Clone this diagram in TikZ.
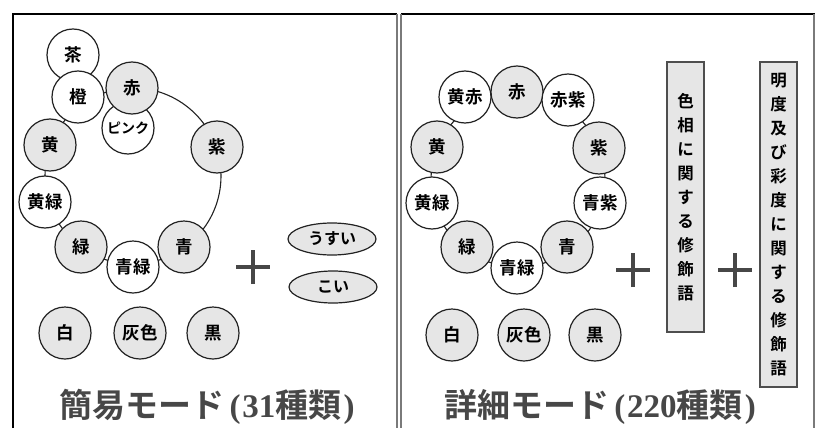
\documentclass[tikz,border=0pt]{standalone}
\usepackage{fontspec}
\usetikzlibrary{shapes.geometric}
\newfontfamily\jp{Noto Sans CJK JP}[BoldFont={Noto Sans CJK JP Bold}]
\newfontfamily\digserif{Liberation Serif}
\definecolor{cfill}{HTML}{E6E6E6}
\definecolor{ink}{HTML}{222222}
\definecolor{titlegray}{HTML}{474747}
\definecolor{framegray}{HTML}{7A7A7A}
\newcommand{\ser}[1]{{\digserif\bfseries #1}}
\tikzset{
  col/.style={circle, draw=ink, line width=1.2pt, minimum size=52pt, inner sep=0pt,
    font=\jp\bfseries\fontsize{17.5}{17.5}\selectfont},
  cw/.style={col, fill=white},
  cg/.style={col, fill=cfill},
  ringline/.style={draw=ink, line width=1.1pt},
  mod/.style={ellipse, draw=ink, fill=cfill, line width=1.2pt, minimum width=88pt,
    minimum height=32pt, inner sep=0pt, font=\jp\bfseries\fontsize{16}{16}\selectfont},
  vbox/.style={rectangle, draw=ink!80, fill=cfill, line width=1.3pt, minimum width=37pt,
    inner sep=0pt, align=center, font=\jp\bfseries\fontsize{16.5}{24}\selectfont},
  plusline/.style={draw=titlegray, line width=4pt},
  ttl/.style={text=titlegray, font=\jp\bfseries\fontsize{33}{33}\selectfont, inner sep=0pt},
  frameb/.style={draw=black, line width=1.5pt},
  frameg/.style={draw=framegray, line width=1.5pt}
}
\begin{document}
\begin{tikzpicture}[x=1pt,y=-1pt]
\useasboundingbox (0,0) rectangle (826,428);
\fill[white] (0,0) rectangle (826,428);
% frames
\draw[frameb] (13,428) -- (13,14) -- (397,14);
\draw[frameg] (397,14) -- (397,428);
\draw[frameb] (401,14) -- (815,14);
\draw[frameg] (401,14) -- (401,428);
\draw[frameg, line width=2.5pt] (814,14) -- (814,428);

% ===== left panel =====
\draw[ringline] (133,176) circle (88);
\node[cw] (cha) at (73,55) {茶};
\node[cw] (dai) at (78,97) {橙};
\node[cw] (pink) at (128,128) {\fontsize{14}{14}\selectfont ピンク};
\node[cg] (aka) at (132,88) {赤};
\node[cg] (mur) at (217,147) {紫};
\node[cg] (ki) at (50,145) {黄};
\node[cw] (kimi) at (45,202) {黄緑};
\node[cg] (mid) at (81,247) {緑};
\node[cg] (ao) at (184,247) {青};
\node[cw] (aomi) at (133,267) {青緑};
\node[cg] (shiro) at (65,333) {白};
\node[cg] (hai) at (140,333) {灰色};
\node[cg] (kuro) at (213,333) {黒};
\coordinate (p1) at (253,267);
\draw[plusline] ([xshift=-17pt]p1) -- ([xshift=17pt]p1);
\draw[plusline] ([yshift=-17pt]p1) -- ([yshift=17pt]p1);
\node[mod] (usui) at (332,239) {うすい};
\node[mod] (koi) at (333,287) {こい};
\node[ttl] (t1) at (207,407) {簡易モード\hspace{5pt}\ser{(}\hspace{2pt}\ser{31}種類\hspace{2pt}\ser{)}};

% ===== right panel =====
\draw[ringline] (518,180) circle (87);
\node[cw] (rkiaka) at (465,97) {黄赤};
\node[cg] (raka) at (517,92) {赤};
\node[cw] (rakamu) at (568,100) {赤紫};
\node[cg] (rmur) at (599,148) {紫};
\node[cw] (raomu) at (600,203) {青紫};
\node[cg] (rao) at (567,247) {青};
\node[cg] (rmid) at (467,247) {緑};
\node[cw] (raomi) at (517,268) {青緑};
\node[cw] (rkimi) at (432,203) {黄緑};
\node[cg] (rki) at (437,147) {黄};
\node[cg] (rshiro) at (452,335) {白};
\node[cg] (rhai) at (524,335) {灰色};
\node[cg] (rkuro) at (595,335) {黒};
\coordinate (p2) at (633,270);
\draw[plusline] ([xshift=-17pt]p2) -- ([xshift=17pt]p2);
\draw[plusline] ([yshift=-17pt]p2) -- ([yshift=17pt]p2);
\node[vbox, minimum height=270pt] (hue) at (685.5,197) {色\\相\\に\\関\\す\\る\\修\\飾\\語};
\coordinate (p3) at (735,270);
\draw[plusline] ([xshift=-17pt]p3) -- ([xshift=17pt]p3);
\draw[plusline] ([yshift=-17pt]p3) -- ([yshift=17pt]p3);
\node[vbox, minimum height=325pt] (tone) at (778.5,224.5) {明\\度\\及\\び\\彩\\度\\に\\関\\す\\る\\修\\飾\\語};
\node[ttl] (t2) at (600,407) {詳細モード\hspace{5pt}\ser{(}\hspace{2pt}\ser{220}種類\hspace{2pt}\ser{)}};
\end{tikzpicture}
\end{document}
